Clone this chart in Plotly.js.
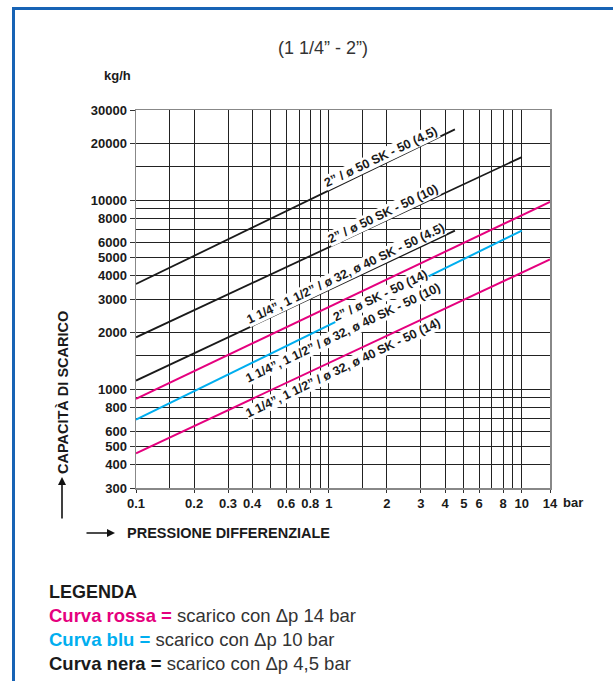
<!DOCTYPE html>
<html>
<head>
<meta charset="utf-8">
<script src="https://cdn.plot.ly/plotly-3.0.1.min.js"></script>
<style>
html,body{margin:0;padding:0;background:#fff;}
#frame{position:absolute;left:12px;top:7px;width:640px;height:700px;border-top:3px solid #1763b5;border-left:3px solid #1763b5;pointer-events:none;z-index:5;}
#chart{position:absolute;left:0;top:0;width:613px;height:681px;}
</style>
</head>
<body>
<div id="chart"></div>
<div id="frame"></div>
<script>
// ---- data ----
const pressureTo45 = [0.1, 4.5];
const pressureTo10 = [0.1, 10];
const pressureTo14 = [0.1, 14];

const flow2in_45   = [3600, 23700];   // 2" / ø 50 SK-50 (4.5)
const flow2in_10   = [1880, 16900];   // 2" / ø 50 SK-50 (10)
const flowSmall_45 = [1110, 6900];    // 1 1/4", 1 1/2" / ø 32, ø 40 SK-50 (4.5)
const flow2in_14   = [890, 9800];     // 2" / ø SK-50 (14)
const flowSmall_10 = [690, 6900];     // 1 1/4", 1 1/2" / ø 32, ø 40 SK-50 (10)
const flowSmall_14 = [458, 4860];     // 1 1/4", 1 1/2" / ø 32, ø 40 SK-50 (14)

const xTickVals = [0.1,0.2,0.3,0.4,0.6,0.8,1,2,3,4,5,6,8,10,14];
const xTickText = ['0.1','0.2','0.3','0.4','0.6','0.8','1','2','3','4','5','6','8','10','14'];
const xMinorVals = [0.15,0.5,0.7,0.9,1.5,7,9];
const yTickVals = [300,400,500,600,800,1000,2000,3000,4000,5000,6000,8000,10000,20000,30000];
const yTickText = yTickVals.map(String);
const yMinorVals = [700,900,1500,7000,9000,15000];

const labels = [
  '2” / ø 50 SK - 50 (4.5)',
  '2” / ø 50 SK - 50 (10)',
  '1 1/4”, 1 1/2” / ø 32, ø 40 SK - 50 (4.5)',
  '2” / ø SK - 50 (14)',
  '1 1/4”, 1 1/2” / ø 32, ø 40 SK - 50 (10)',
  '1 1/4”, 1 1/2” / ø 32, ø 40 SK - 50 (14)'
];

const BLACK = '#1a1a1a', MAGENTA = '#e5007e', CYAN = '#00aeef';

const traces = [
  {x: pressureTo45, y: flow2in_45,   color: BLACK,   w: 1.8},
  {x: pressureTo10, y: flow2in_10,   color: BLACK,   w: 1.8},
  {x: pressureTo45, y: flowSmall_45, color: BLACK,   w: 1.8},
  {x: pressureTo14, y: flow2in_14,   color: MAGENTA, w: 2},
  {x: pressureTo10, y: flowSmall_10, color: CYAN,    w: 2},
  {x: pressureTo14, y: flowSmall_14, color: MAGENTA, w: 2}
].map((t, i) => ({
  type: 'scatter', mode: 'lines', x: t.x, y: t.y, name: labels[i],
  line: {color: t.color, width: t.w}, hoverinfo: 'skip', cliponaxis: true
}));

// plot-area pixel geometry helpers (for text placement only)
const L = 136, R = 550, T = 110, B = 488;
const px = v => (v - L) / (R - L);
const py = v => (B - v) / (B - T);

const FONT = 'Liberation Sans, Arial, sans-serif';
const lblPos = [[381, 157], [383, 214], [345, 274], [380, 296], [343, 333], [343, 368]];
const ANG = -25.5;

function txt(x, y, text, font, extra) {
  return Object.assign({xref:'paper', yref:'paper', x: px(x), y: py(y), text: text, showarrow:false,
    xanchor:'center', yanchor:'middle', font: font}, extra || {});
}

const annotations = labels.map((t, i) => txt(lblPos[i][0], lblPos[i][1], t,
  {family: FONT, size: 12.5, color: '#1a1a1a', weight: 'bold'},
  {textangle: ANG, bgcolor: '#ffffff', borderpad: 0}));

const legendFont = {family:FONT, size:18.5, color:'#333'};
annotations.push(
  txt(323, 48, '(1 1/4” - 2”)', {family:FONT, size:18, color:'#333'}),
  txt(117, 76, 'kg/h', {family:FONT, size:13, color:'#1a1a1a', weight:'bold'}),
  txt(561, 502, 'bar', {family:FONT, size:13, color:'#1a1a1a', weight:'bold'}, {xanchor:'left'}),
  // y-axis title + arrow
  txt(63, 393, 'CAPACITÀ DI SCARICO', {family:FONT, size:14.5, color:'#1a1a1a', weight:'bold'}, {textangle:-90}),
  {xref:'paper', yref:'paper', x: px(62), y: py(477), text:'', showarrow:true, ax:0, ay:43,
   arrowhead:2, arrowsize:1, arrowwidth:1.6, arrowcolor:'#111', standoff:0},
  // x-axis title + arrow
  txt(125, 533, 'PRESSIONE DIFFERENZIALE', {family:FONT, size:14.5, color:'#1a1a1a', weight:'bold'}, {xanchor:'left'}),
  {xref:'paper', yref:'paper', x: px(115), y: py(533), text:'', showarrow:true, ax:-30, ay:0,
   arrowhead:2, arrowsize:1, arrowwidth:1.6, arrowcolor:'#111', standoff:0},
  // legend
  txt(47, 592, 'LEGENDA', {family:FONT, size:18, color:'#1a1a1a', weight:'bold'}, {xanchor:'left'}),
  txt(47, 615, '<span style="color:#e5007e;font-weight:bold">Curva rossa =</span> scarico con Δp 14 bar', legendFont, {xanchor:'left'}),
  txt(47, 639, '<span style="color:#00aeef;font-weight:bold">Curva blu =</span> scarico con Δp 10 bar', legendFont, {xanchor:'left'}),
  txt(47, 663, '<span style="color:#1a1a1a;font-weight:bold">Curva nera =</span> scarico con Δp 4,5 bar', legendFont, {xanchor:'left'})
);

const axisCommon = {
  type: 'log', tickmode: 'array',
  ticks: 'outside', tickcolor: '#333', tickwidth: 1,
  showgrid: true, gridcolor: '#222', gridwidth: 1,
  showline: true, mirror: true, linecolor: '#888', linewidth: 1.5,
  zeroline: false, fixedrange: true,
  tickfont: {family: FONT, size: 13, color: '#1a1a1a', weight: 'bold'}
};

const layout = {
  width: 613, height: 681,
  margin: {l: L, r: 613 - R, t: T, b: 681 - B},
  paper_bgcolor: '#fff', plot_bgcolor: '#fff',
  showlegend: false,
  xaxis: Object.assign({}, axisCommon, {
    range: [Math.log10(0.1), Math.log10(14)],
    tickvals: xTickVals, ticktext: xTickText, ticklen: 3,
    minor: {tickmode: 'array', tickvals: xMinorVals, showgrid: true, gridcolor: '#222', gridwidth: 1, ticks: ''}
  }),
  yaxis: Object.assign({}, axisCommon, {
    range: [Math.log10(300), Math.log10(30000)],
    tickvals: yTickVals, ticktext: yTickText, ticklen: 5,
    minor: {tickmode: 'array', tickvals: yMinorVals, showgrid: true, gridcolor: '#222', gridwidth: 1, ticks: ''}
  }),
  annotations: annotations
};

Plotly.newPlot('chart', traces, layout, {staticPlot: true, displayModeBar: false});
</script>
</body>
</html>
